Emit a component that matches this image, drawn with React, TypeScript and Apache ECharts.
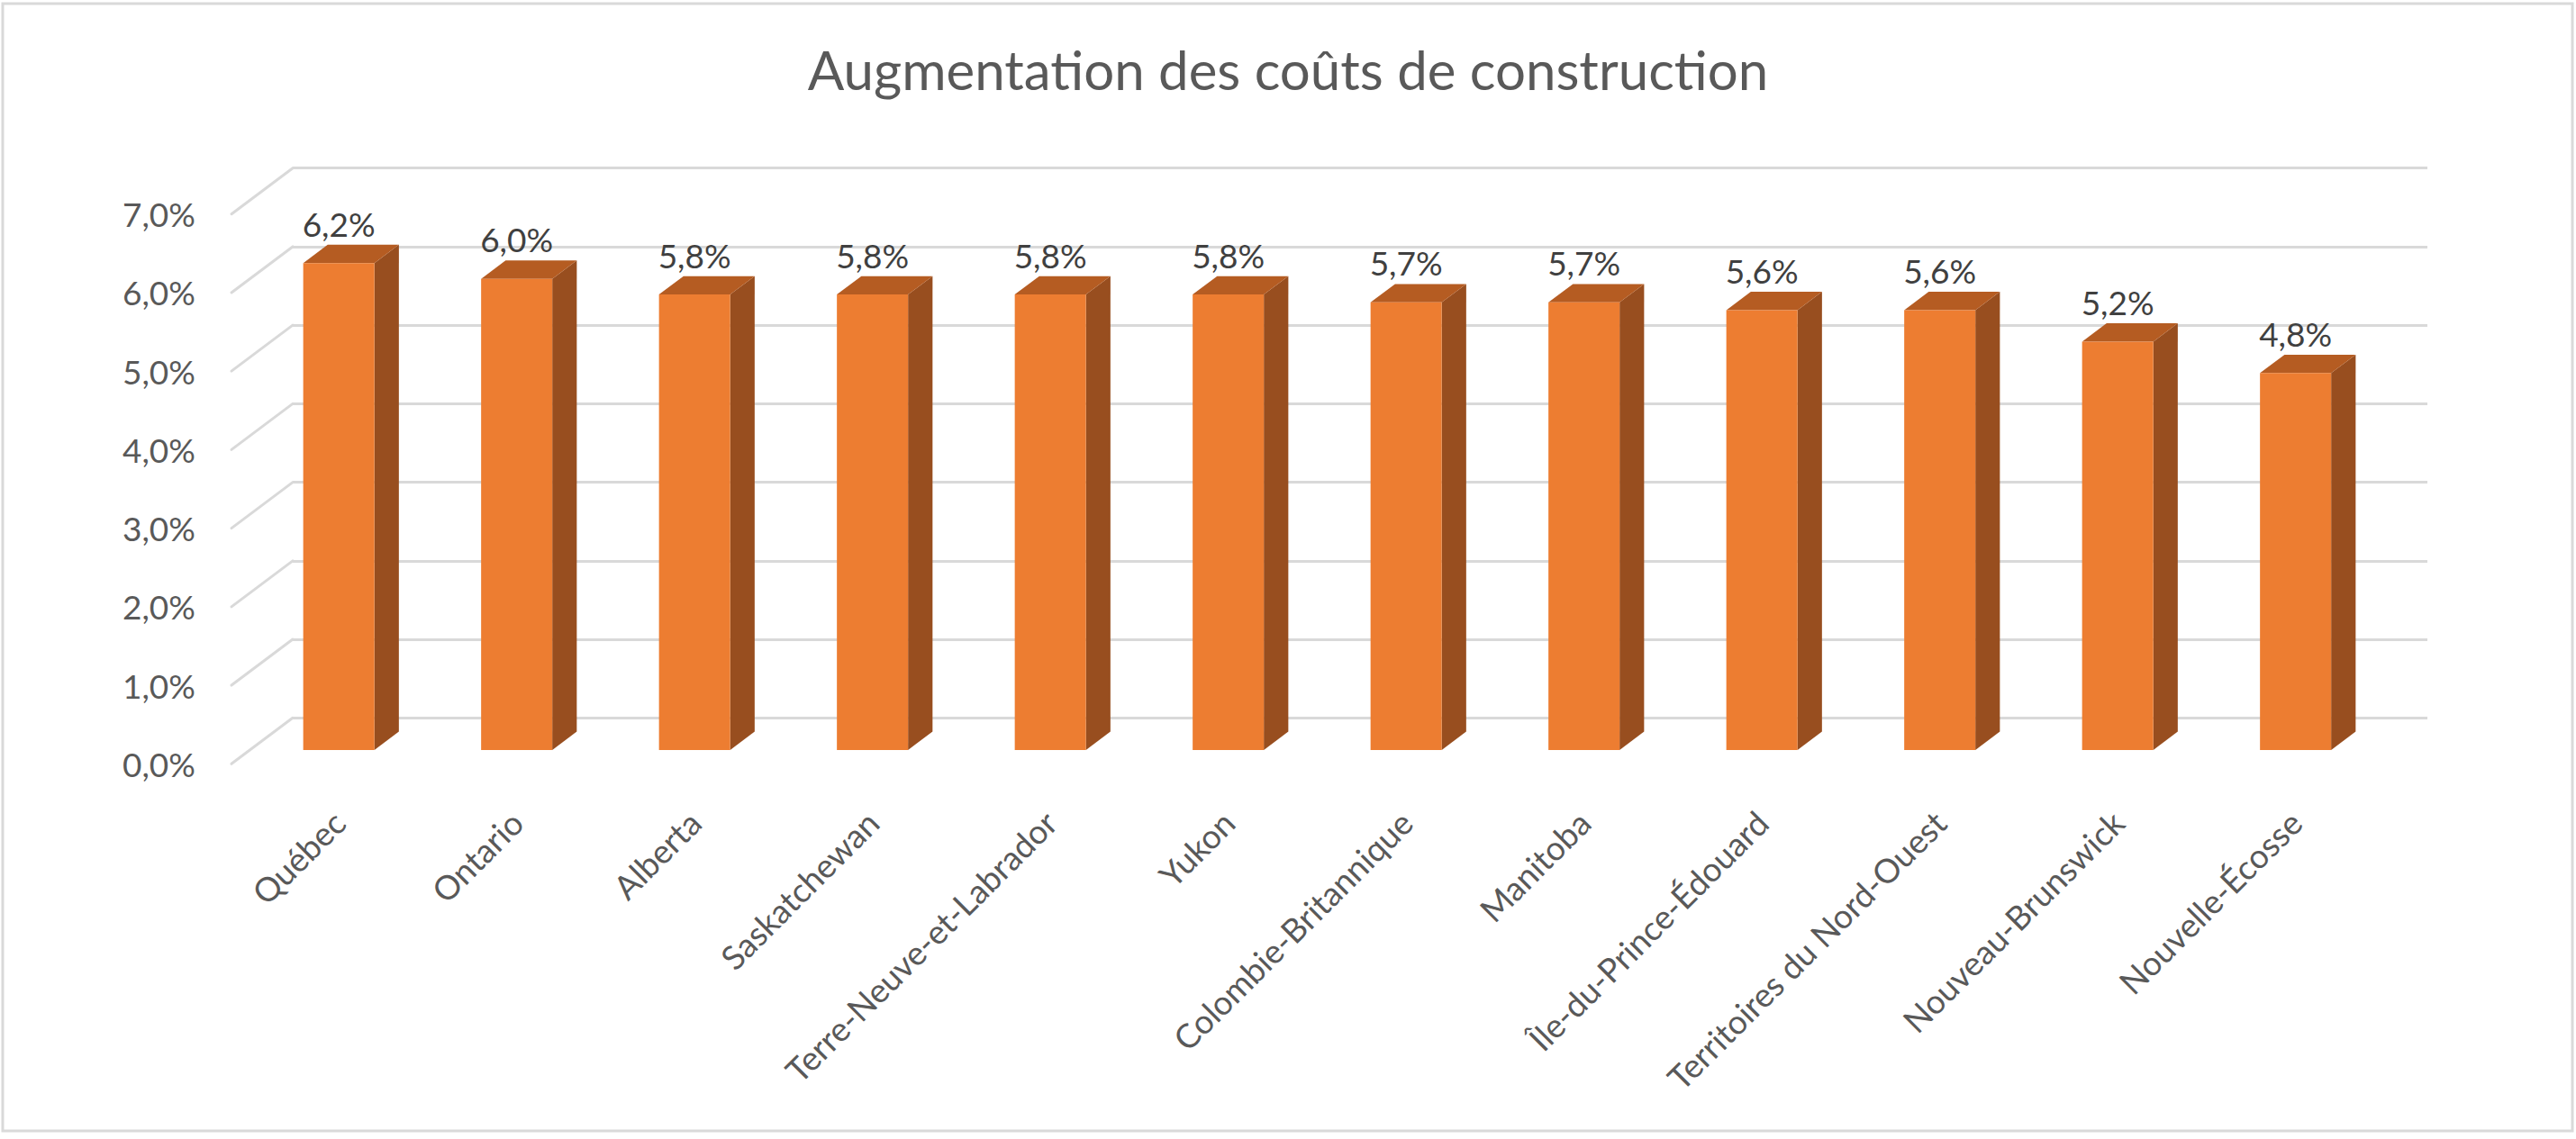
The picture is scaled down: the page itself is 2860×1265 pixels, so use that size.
import React, { useEffect, useRef } from "react";
import * as echarts from "echarts";

const TITLE = "Augmentation des coûts de construction";
const categories = [
  "Québec",
  "Ontario",
  "Alberta",
  "Saskatchewan",
  "Terre-Neuve-et-Labrador",
  "Yukon",
  "Colombie-Britannique",
  "Manitoba",
  "Île-du-Prince-Édouard",
  "Territoires du Nord-Ouest",
  "Nouveau-Brunswick",
  "Nouvelle-Écosse",
];
const values = [6.2, 6.0, 5.8, 5.8, 5.8, 5.8, 5.7, 5.7, 5.6, 5.6, 5.2, 4.8];
const yTicks = [0, 1, 2, 3, 4, 5, 6, 7];

const fmt = (v: number) => v.toFixed(1).replace(".", ",") + "%";

const FONT = "Lato, 'Open Sans', sans-serif";
const DX = -68; // depth vector back -> front
const DY = 51;

export default function App() {
  const ref = useRef<HTMLDivElement>(null);
  useEffect(() => {
    if (!ref.current) return;
    const chart = echarts.init(ref.current, null, { renderer: "svg" });
    const W = 2370;
    const H = 610.6;
    const backLeft = 325;
    const backTop = 186.7;
    const option: any = {
      animation: false,
      backgroundColor: "#ffffff",
      title: {
        text: TITLE,
        left: "center",
        top: 42,
        textStyle: { fontFamily: FONT, fontSize: 60, fontWeight: "normal", color: "#595959" },
      },
      graphic: [
        {
          type: "rect",
          shape: { x: 3, y: 4, width: 2853, height: 1252 },
          style: { fill: "none", stroke: "#D9D9D9", lineWidth: 3 },
          silent: true,
        },
      ],
      grid: [
        { left: backLeft, top: backTop, width: W, height: H },
        { left: backLeft + DX, top: backTop + DY, width: W, height: H },
        { left: backLeft + 0.7 * DX, top: backTop + 0.7 * DY, width: W, height: H },
      ],
      xAxis: [
        { gridIndex: 0, type: "category", data: categories, show: false },
        { gridIndex: 1, type: "category", data: categories, show: false },
        {
          gridIndex: 2,
          type: "category",
          data: categories,
          axisLine: { show: false },
          axisTick: { show: false },
          axisLabel: {
            rotate: 45,
            interval: 0,
            margin: 74,
            color: "#595959",
            fontFamily: FONT,
            fontSize: 37,
          },
        },
      ],
      yAxis: [
        {
          gridIndex: 0,
          type: "value",
          min: 0,
          max: 7,
          interval: 1,
          axisLabel: { show: false },
          axisLine: { show: false },
          axisTick: { show: false },
          splitLine: { show: true, lineStyle: { color: "#D9D9D9", width: 3 } },
        },
        {
          gridIndex: 1,
          type: "value",
          min: 0,
          max: 7,
          interval: 1,
          axisLine: { show: false },
          axisTick: { show: false },
          splitLine: { show: false },
          axisLabel: {
            margin: 40,
            color: "#595959",
            fontFamily: FONT,
            fontSize: 37,
            formatter: (v: number) => fmt(v),
          },
        },
        {
          gridIndex: 2,
          type: "value",
          min: 0,
          max: 7,
          interval: 1,
          show: false,
        },
      ],
      series: [
        {
          type: "custom",
          xAxisIndex: 0,
          yAxisIndex: 0,
          clip: false,
          silent: true,
          data: yTicks.map((t) => [0, t]),
          renderItem: (params: any, api: any) => {
            const v = api.value(1);
            const y = api.coord([0, v])[1];
            const x0 = params.coordSys.x;
            return {
              type: "line",
              shape: { x1: x0, y1: y, x2: x0 + DX, y2: y + DY },
              style: { stroke: "#D9D9D9", lineWidth: 3, lineCap: "round" },
            };
          },
        },
        {
          type: "custom",
          xAxisIndex: 0,
          yAxisIndex: 0,
          clip: false,
          silent: true,
          data: values.map((v, i) => [i, v]),
          renderItem: (params: any, api: any) => {
            const i = api.value(0);
            const v = api.value(1);
            const top = api.coord([i, v]);
            const base = api.coord([i, 0]);
            const band = api.size([1, 0])[0];
            const w = band * 0.4;
            const fx = top[0] + 0.7 * DX - w / 2;
            const fy = top[1] + 0.7 * DY;
            const fb = base[1] + 0.7 * DY;
            const ddx = -0.4 * DX;
            const ddy = -0.4 * DY;
            return {
              type: "group",
              children: [
                {
                  type: "polygon",
                  shape: {
                    points: [
                      [fx + w, fy],
                      [fx + w + ddx, fy + ddy],
                      [fx + w + ddx, fb + ddy],
                      [fx + w, fb],
                    ],
                  },
                  style: { fill: "#984E1F" },
                },
                {
                  type: "polygon",
                  shape: {
                    points: [
                      [fx, fy],
                      [fx + w, fy],
                      [fx + w + ddx, fy + ddy],
                      [fx + ddx, fy + ddy],
                    ],
                  },
                  style: { fill: "#B55C22" },
                },
                {
                  type: "rect",
                  shape: { x: fx, y: fy, width: w, height: fb - fy },
                  style: { fill: "#ED7D31" },
                },
                {
                  type: "text",
                  style: {
                    text: fmt(v),
                    x: fx + w / 2,
                    y: fy - 44,
                    align: "center",
                    verticalAlign: "middle",
                    fill: "#404040",
                    fontFamily: FONT,
                    fontSize: 37,
                  },
                },
              ],
            };
          },
        },
      ],
    };
    chart.setOption(option);
    return () => chart.dispose();
  }, []);
  return (
    <div
      ref={ref}
      style={{ position: "absolute", left: 0, top: 0, width: 2860, height: 1265 }}
    />
  );
}
